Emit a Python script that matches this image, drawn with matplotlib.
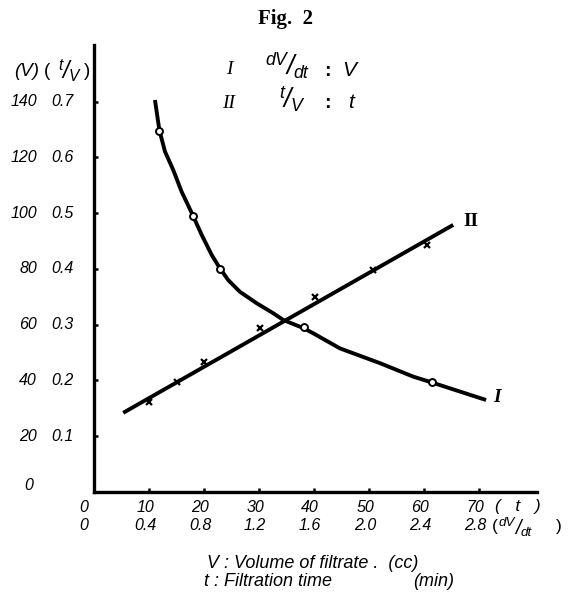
import numpy as np
import matplotlib
matplotlib.use("Agg")
import matplotlib.pyplot as plt
import matplotlib.transforms as mtrans

plt.rcParams['font.family'] = ['Liberation Sans', 'DejaVu Sans']

# curve I : dV/dt vs V (circles)
dvdt_pts = [0.479, 0.726, 0.92, 1.531, 2.46]
v_pts = [129.6, 99.0, 79.9, 59.1, 39.6]
dvdt_curve = [0.447, 0.479, 0.520, 0.580, 0.641, 0.721, 0.787, 0.860, 0.920,
              0.980, 1.065, 1.187, 1.308, 1.380, 1.526, 1.599, 1.793, 2.084,
              2.324, 2.460, 2.855]
v_curve = [140.6, 129.8, 122.1, 115.5, 107.7, 99.4, 92.2, 85.0, 80.2,
           76.0, 71.8, 67.7, 64.1, 61.7, 58.8, 56.9, 51.5, 46.2,
           41.4, 39.3, 33.0]

# curve II : t vs t/V (crosses)
t_pts = [10.1, 15.1, 20.0, 30.3, 40.3, 50.9, 60.6]
tv_pts = [0.162, 0.198, 0.234, 0.295, 0.349, 0.398, 0.443]
t_line = [5.4, 65.4]
tv_line = [0.142, 0.479]

t_ticks = [10, 20, 30, 40, 50, 60, 70]
dvdt_labels = ["0.4", "0.8", "1.2", "1.6", "2.0", "2.4", "2.8"]
tv_ticks = [0.1, 0.2, 0.3, 0.4, 0.5, 0.6, 0.7]
v_labels = ["20", "40", "60", "80", "100", "120", "140"]

W, H = 570, 613
fig = plt.figure(figsize=(W / 100, H / 100), dpi=100)


def fpos(x, y):
    return x / W, 1 - y / H


def slash_frac(x, y, num, den, size):
    # little "num/den" written with a slash, like the hand lettering
    fig.text(*fpos(x - 3, y - size * 0.42), num, ha='right', va='center',
             style='italic', fontsize=size * 0.8)
    fig.text(*fpos(x, y), "/", ha='center', va='center', style='italic',
             fontsize=size * 1.2)
    fig.text(*fpos(x + 3, y + size * 0.42), den, ha='left', va='center',
             style='italic', fontsize=size * 0.8)


x0, y0, x1, y1 = 93.5, 492, 537, 45
rect = [x0 / W, 1 - y0 / H, (x1 - x0) / W, (y0 - y1) / H]
ax = fig.add_axes(rect)
t_max = (x1 - x0) / 5.5
tv_max = (y0 - y1) / 557.6
ax.set_xlim(0, t_max)
ax.set_ylim(0, tv_max)
for s in ['top', 'right']:
    ax.spines[s].set_visible(False)
for s in ['left', 'bottom']:
    ax.spines[s].set_linewidth(2.4)
ax.set_xticks(t_ticks)
ax.set_yticks(tv_ticks)
ax.tick_params(direction='in', length=3, width=1.8, labelbottom=False, labelleft=False)

# second axes in dV/dt and V units on the same frame
ax2 = fig.add_axes(rect, frameon=False)
ax2.set_xlim(0, t_max * 0.04)
ax2.set_ylim(0, tv_max * 200)
ax2.set_xticks([])
ax2.set_yticks([])

ax.plot(t_line, tv_line, color='black', lw=2.8, solid_capstyle='butt')
ax.plot(t_pts, tv_pts, 'x', color='black', ms=5, mew=1.6)
ax2.plot(dvdt_curve, v_curve, color='black', lw=2.8, solid_capstyle='butt',
         solid_joinstyle='round')
ax2.plot(dvdt_pts, v_pts, 'o', color='black', mfc='white', ms=5, mew=1.4)

fs = 11.5
trans_y = mtrans.blended_transform_factory(fig.transFigure, ax.transData)
for tv, vl in zip(tv_ticks, v_labels):
    ax.text(37 / W, tv, vl, transform=trans_y, ha='right', va='center',
            style='italic', fontsize=fs)
    ax.text(74 / W, tv, f"{tv:.1f}", transform=trans_y, ha='right', va='center',
            style='italic', fontsize=fs)
fig.text(*fpos(33, 486), "0", ha='right', va='center', style='italic', fontsize=fs)

trans_x = mtrans.blended_transform_factory(ax.transData, fig.transFigure)
for t, dl in zip(t_ticks, dvdt_labels):
    ax.text(t - 0.6, 1 - 508 / H, str(t), transform=trans_x, ha='center', va='center',
            style='italic', fontsize=fs)
    ax.text(t - 0.6, 1 - 525 / H, dl, transform=trans_x, ha='center', va='center',
            style='italic', fontsize=fs)
fig.text(*fpos(84, 508), "0", ha='center', va='center', style='italic', fontsize=fs)
fig.text(*fpos(84, 525), "0", ha='center', va='center', style='italic', fontsize=fs)
fig.text(*fpos(495, 506), "(   t   )", ha='left', va='center', style='italic', fontsize=fs + 1)
fig.text(*fpos(492, 527), "(", ha='left', va='center', fontsize=fs + 1)
slash_frac(518, 528, "dV", "dt", 12)
fig.text(*fpos(562, 527), ")", ha='right', va='center', fontsize=fs + 1)

# y-axis header (V)(t/V)
fig.text(*fpos(14, 72), "(V)", ha='left', va='center', style='italic', fontsize=fs + 2)
fig.text(*fpos(44, 72), "(", ha='left', va='center', fontsize=fs + 2)
slash_frac(66, 71, "t", "V", 14)
fig.text(*fpos(90, 72), ")", ha='right', va='center', fontsize=fs + 2)

fig.text(*fpos(285, 19), "Fig.  2", ha='center', va='center', fontsize=15,
         fontweight='bold', family='Liberation Serif')

# key
fig.text(*fpos(229, 70), "I", ha='center', va='center', fontsize=14,
         style='italic', family='Liberation Serif')
slash_frac(290, 67, "dV", "dt", 16)
fig.text(*fpos(327, 71), ":", ha='center', va='center', fontsize=14, fontweight='bold')
fig.text(*fpos(349, 70), "V", ha='center', va='center', fontsize=15, style='italic')
fig.text(*fpos(229, 103), "II", ha='center', va='center', fontsize=14,
         style='italic', family='Liberation Serif')
slash_frac(287, 100, "t", "V", 16)
fig.text(*fpos(327, 104), ":", ha='center', va='center', fontsize=14, fontweight='bold')
fig.text(*fpos(351, 103), "t", ha='center', va='center', fontsize=15, style='italic')

fig.text(*fpos(471, 222), "II", ha='center', va='center', fontsize=14,
         fontweight='bold', family='Liberation Serif')
fig.text(*fpos(497, 397), "I", ha='center', va='center', fontsize=14,
         fontweight='bold', style='italic', family='Liberation Serif')

fig.text(*fpos(207, 563), "V : Volume of filtrate .  (cc)", ha='left', va='center',
         style='italic', fontsize=13)
fig.text(*fpos(204, 582), "t : Filtration time", ha='left', va='center',
         style='italic', fontsize=13)
fig.text(*fpos(413, 582), "(min)", ha='left', va='center', style='italic', fontsize=13)

fig.savefig("out.png", dpi=100)
